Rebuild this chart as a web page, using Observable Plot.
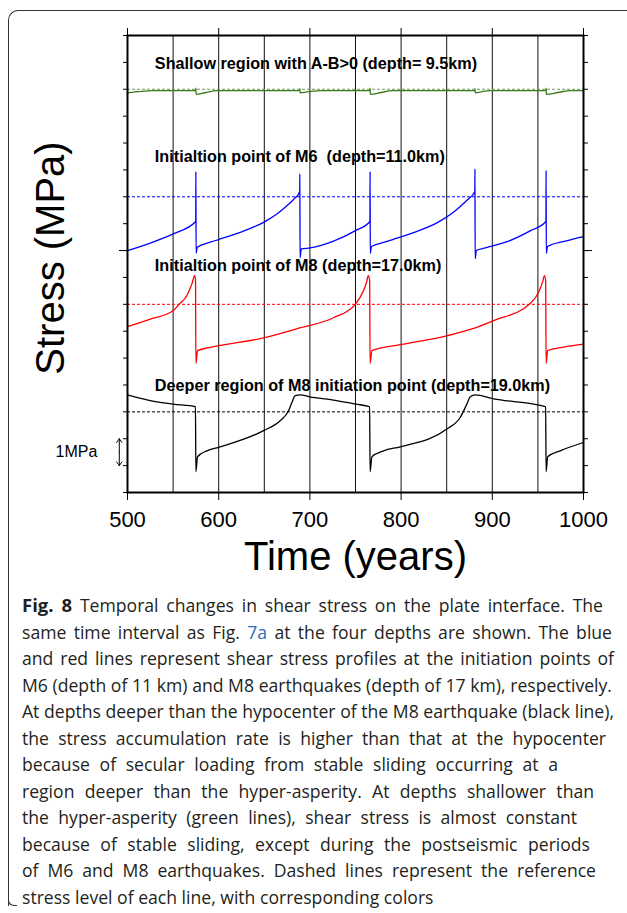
<!DOCTYPE html>
<html>
<head>
<meta charset="utf-8">
<script src="https://cdn.jsdelivr.net/npm/d3@7"></script>
<script src="https://cdn.jsdelivr.net/npm/@observablehq/plot@0.6"></script>
<style>
  html, body { margin: 0; padding: 0; background: #fff; }
  #page { position: relative; width: 627px; height: 913px; overflow: hidden; background: #fff; }
  #border { position: absolute; left: 8px; top: 10px; width: 640px; height: 895px;
    border-left: 1.5px solid #333; border-top: 1.5px solid #333; border-top-left-radius: 10px; }
  #hook { position: absolute; left: 8px; top: 895px; width: 8px; height: 10px;
    border-left: 1.5px solid #333; border-bottom: 1.5px solid #333; border-bottom-left-radius: 6px; }
  #chart { position: absolute; left: 0; top: 0; }
  #caption { position: absolute; left: 22px; top: 592px; font-family: "Open Sans", "Noto Sans", sans-serif;
    font-size: 17.6px; line-height: 26.5px; color: #231f20; }
  #caption div { white-space: nowrap; text-align: justify; text-align-last: justify; }
  #caption div.last { text-align: left; text-align-last: left; }
  #caption b { font-weight: 700; font-size: 18.5px; }
  #caption .link { color: #2a6ebb; }
</style>
</head>
<body>
<div id="page">
  <div id="border"></div>
  <div id="hook"></div>
  <div id="chart"></div>
  <div id="caption">
    <div style="width:581px"><b>Fig. 8</b> Temporal changes in shear stress on the plate interface. The</div>
    <div style="width:590px">same time interval as Fig. <span class="link">7a</span> at the four depths are shown. The blue</div>
    <div style="width:592px">and red lines represent shear stress profiles at the initiation points of</div>
    <div style="width:590px">M6 (depth of 11 km) and M8 earthquakes (depth of 17 km), respectively.</div>
    <div style="width:592px">At depths deeper than the hypocenter of the M8 earthquake (black line),</div>
    <div style="width:584px">the stress accumulation rate is higher than that at the hypocenter</div>
    <div style="width:536px">because of secular loading from stable sliding occurring at a</div>
    <div style="width:572px">region deeper than the hyper-asperity. At depths shallower than</div>
    <div style="width:555px">the hyper-asperity (green lines), shear stress is almost constant</div>
    <div style="width:568px">because of stable sliding, except during the postseismic periods</div>
    <div style="width:574px">of M6 and M8 earthquakes. Dashed lines represent the reference</div>
    <div class="last">stress level of each line, with corresponding colors</div>
  </div>
</div>
<script>
// ---- data (years, stress in MPa on a stacked offset scale) ----
const greenYear   = [500, 515, 528, 574.8, 575, 575.3, 585, 598, 688.8, 689, 689.3, 700, 713, 765.8, 766, 766.3, 778, 791, 880.8, 881, 881.3, 890, 898, 958.8, 959, 959.3, 972, 986, 1000];
const greenStress = [14.87, 14.92, 14.95, 14.95, 15.04, 14.81, 14.87, 14.95, 14.95, 15.02, 14.87, 14.92, 14.95, 14.95, 15.04, 14.81, 14.88, 14.95, 14.95, 15.02, 14.87, 14.92, 14.95, 14.95, 15.04, 14.81, 14.88, 14.95, 14.95];

const blueYear   = [500, 525, 550, 574.8, 575, 575.2, 576.5, 590.7, 599.8, 623.6, 649.2, 663.8, 674.8, 682.1, 688.8, 689, 689.2, 690.5, 700.4, 725.9, 750, 765.8, 766, 766.2, 767.5, 781.7, 790.8, 814.6, 840.2, 854.8, 865.8, 873.1, 880.8, 881, 881.2, 882.5, 892.4, 917.9, 942, 958.8, 959, 959.2, 960.5, 980, 1000];
const blueStress = [9.00, 9.28, 9.62, 10.08, 11.94, 8.90, 9.12, 9.31, 9.41, 9.68, 10.05, 10.36, 10.67, 10.90, 11.19, 11.85, 8.73, 9.06, 9.10, 9.35, 9.74, 10.08, 11.94, 8.90, 9.15, 9.31, 9.41, 9.68, 10.05, 10.36, 10.67, 10.90, 11.19, 12.04, 8.70, 9.00, 9.10, 9.35, 9.74, 10.08, 11.98, 8.90, 9.15, 9.35, 9.52];

const redYear   = [500, 525, 550, 556, 565, 570.6, 573.6, 574.6, 575, 576.8, 590.7, 599.8, 649.2, 688.7, 725.9, 750, 758.8, 762.5, 763.8, 765.5, 766, 768, 799, 850.2, 881.3, 901.4, 941.6, 950.8, 955.5, 957, 958.5, 959, 960.7, 980, 1000];
const redStress = [6.17, 6.45, 6.76, 6.98, 7.32, 7.76, 8.07, 7.90, 4.80, 5.28, 5.40, 5.46, 5.75, 6.12, 6.50, 7.01, 7.51, 7.87, 8.07, 7.90, 4.80, 5.28, 5.50, 5.83, 6.12, 6.39, 7.03, 7.45, 7.87, 8.07, 7.90, 4.80, 5.28, 5.42, 5.52];

const blackYear   = [500, 525, 550, 574.5, 575, 576.8, 587, 599.8, 649.2, 667.4, 676.6, 680.3, 683.9, 689.4, 699.6, 725.9, 750, 765.5, 766, 768, 780.7, 799, 850.2, 864.8, 872.1, 875.8, 881.3, 901.4, 950.1, 958.5, 959, 960.7, 974.5, 1000];
const blackStress = [3.63, 3.42, 3.29, 3.19, 0.78, 1.33, 1.55, 1.68, 2.30, 2.67, 3.04, 3.35, 3.60, 3.63, 3.56, 3.44, 3.29, 3.19, 0.78, 1.33, 1.55, 1.70, 2.36, 2.79, 3.29, 3.56, 3.63, 3.48, 3.26, 3.19, 0.78, 1.33, 1.55, 1.86];

const seriesNames  = ["Shallow region with A-B>0 (depth= 9.5km)", "Initialtion point of M6\u00a0 (depth=11.0km)", "Initialtion point of M8 (depth=17.0km)", "Deeper region of M8 initiation point (depth=19.0km)"];
const seriesColors = ["#3c7a1c", "#0000ff", "#ff0000", "#000000"];
const dashColors   = ["#6f9a5a", "#0000ff", "#ff0000", "#000000"];
const refLevels    = [15, 11, 7, 3];
const labelYear    = 530;
const labelStress  = [15.96, 12.47, 8.45, 3.97];

const xTicks    = [500, 600, 700, 800, 900, 1000];
const gridYears = [550, 600, 650, 700, 750, 800, 850, 900, 950];
const yTicks    = [0, 1, 2, 3, 4, 5, 6, 7, 8, 9, 10, 11, 12, 13, 14, 15, 16, 17];
const yMajor    = [9];
const scaleBar  = {year: 491, from: 1, to: 2, labelYear: 467, text: "1MPa"};
const xTitle = "Time (years)";
const yTitle = "Stress (MPa)";

const rows = (ys, ss) => ys.map((y, i) => ({year: y, stress: ss[i]}));
const series = [rows(greenYear, greenStress), rows(blueYear, blueStress), rows(redYear, redStress), rows(blackYear, blackStress)];
const labels = seriesNames.map((t, i) => ({text: t, year: labelYear, stress: labelStress[i]}));
const mid = (scaleBar.from + scaleBar.to) / 2;

const blank = () => "";
const marks = [
  Plot.ruleX(gridYears, {stroke: "#111", strokeWidth: 1}),
  ...refLevels.map((r, i) => Plot.ruleY([r], {stroke: dashColors[i], strokeWidth: 1, strokeDasharray: "3,2"})),
  ...series.map((s, i) => Plot.line(s, {x: "year", y: "stress", stroke: seriesColors[i], strokeWidth: 1.3, curve: "monotone-x"})),
  Plot.text(labels, {x: "year", y: "stress", text: "text", textAnchor: "start", fontWeight: "bold", fontSize: 16.2, fill: "black"}),
  Plot.frame({stroke: "black", strokeWidth: 2}),
  Plot.axisX({anchor: "bottom", ticks: xTicks, tickSize: 8, tickPadding: 11, fontSize: 22, tickFormat: d => String(d), label: null}),
  Plot.axisX({anchor: "top", ticks: xTicks, tickSize: 8, tickFormat: blank, label: null}),
  Plot.axisY({anchor: "left", ticks: yTicks, tickSize: 4, tickFormat: blank, label: null}),
  Plot.axisY({anchor: "right", ticks: yTicks, tickSize: 4, tickFormat: blank, label: null}),
  Plot.axisY({anchor: "left", ticks: yMajor, tickSize: 8, tickFormat: blank, label: null}),
  Plot.axisY({anchor: "right", ticks: yMajor, tickSize: 8, tickFormat: blank, label: null}),
  Plot.arrow([{x: scaleBar.year, a: mid, b: scaleBar.to}, {x: scaleBar.year, a: mid, b: scaleBar.from}],
    {x1: "x", x2: "x", y1: "a", y2: "b", stroke: "black", strokeWidth: 1, headLength: 7, headAngle: 70}),
  Plot.text([scaleBar], {x: "labelYear", y: () => mid, text: "text", textAnchor: "end", fontSize: 16}),
  Plot.text([xTitle], {frameAnchor: "bottom", dy: 65, text: d => d, fontSize: 40, textAnchor: "middle", lineAnchor: "middle"}),
  Plot.text([yTitle], {frameAnchor: "left", dx: -76, dy: -6, rotate: -90, text: d => d, fontSize: 40, textAnchor: "middle", lineAnchor: "middle"})
];

const chart = Plot.plot({
  width: 627,
  height: 600,
  marginLeft: 127,
  marginRight: 44,
  marginTop: 35,
  marginBottom: 108,
  x: {domain: [500, 1000]},
  y: {domain: [0, 17]},
  style: {fontFamily: "'Liberation Sans', Arial, Helvetica, sans-serif", fontSize: "14px", background: "transparent", color: "black", overflow: "visible"},
  marks
});
document.getElementById("chart").appendChild(chart);
</script>
</body>
</html>
